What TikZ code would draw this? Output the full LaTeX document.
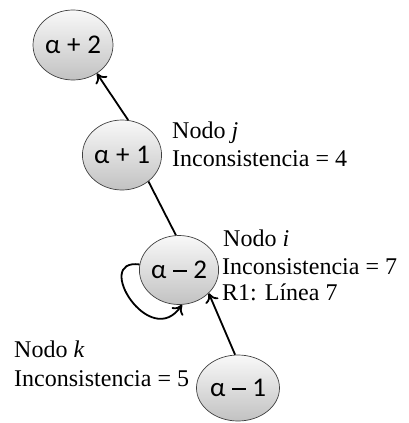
\documentclass[tikz,border=0pt]{standalone}
\usepackage{fontspec}
\setmainfont{Liberation Serif}
\newfontfamily\nodefont{Carlito}
\usetikzlibrary{shapes.geometric,arrows.meta}
\newcommand{\opgap}{\hspace{0.25em}}
\newcommand{\longminus}{\rule[0.26em]{0.5em}{0.075em}}
\begin{document}
\begin{tikzpicture}[x=1pt,y=-1pt,
  state/.style={ellipse,draw=black!75,line width=0.7pt,top color=gray!5,bottom color=gray!48,
    minimum width=80pt,minimum height=70pt,inner sep=0pt,font=\nodefont\fontsize{27}{30}\selectfont},
  lbl/.style={anchor=base west,inner sep=0pt,font=\fontsize{24}{27}\selectfont},
  arr/.style={line width=1.8pt,-{To[length=9pt,width=14pt]}},
  conn/.style={line width=1.8pt}]
\useasboundingbox (0,0) rectangle (409,423);
\node[state] (ap2) at (73,45) {α\opgap+\opgap2};
\node[state,minimum width=72pt,minimum height=70pt] (ap1) at (122,155) {α\opgap+\opgap1};
\node[state,minimum width=78pt,minimum height=69pt] (am2) at (179,270) {α\opgap\longminus\opgap2};
\node[state,minimum width=83pt,minimum height=66pt] (am1) at (238,388) {α\opgap\longminus\opgap1};
\draw[arr] (ap1.80) -- (ap2.-50);
\draw[conn] (ap1.-45) -- (am2.95);
\draw[arr] (am1.95) -- (am2.-38);
\draw[arr] (am2.172) .. controls (92,258) and (150,352) .. (am2.-85);
\node[lbl] (tj1) at (172,138) {Nodo \textit{j}};
\node[lbl] (tj2) at (172,166) {Inconsistencia = 4};
\node[lbl] (ti1) at (223,246) {Nodo \textit{i}};
\node[lbl] (ti2) at (222,274) {Inconsistencia = 7};
\node[lbl] (ti3) at (222,300) {R1: Línea 7};
\node[lbl] (tk1) at (14,357) {Nodo \textit{k}};
\node[lbl] (tk2) at (14,386) {Inconsistencia = 5};
\end{tikzpicture}
\end{document}
